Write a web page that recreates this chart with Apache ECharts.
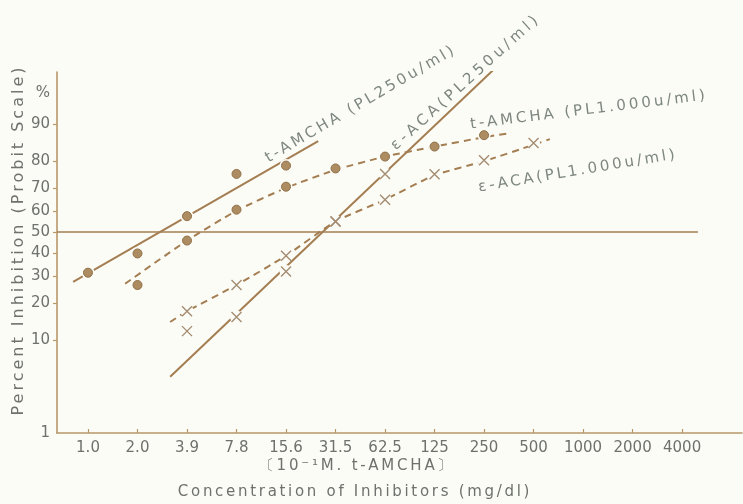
<!DOCTYPE html>
<html>
<head>
<meta charset="utf-8">
<style>
  html, body { margin: 0; padding: 0; background: #fcfcf6; }
  #chart { width: 743px; height: 504px; }
</style>
<script src="https://cdn.jsdelivr.net/npm/echarts@6/dist/echarts.min.js"></script>
</head>
<body>
<div id="chart"></div>
<script>
// Letter-spaced type: a font family token "trkNN" means NN/10 px of tracking.
(function () {
  const P = window.CanvasRenderingContext2D && CanvasRenderingContext2D.prototype;
  if (!P || !('letterSpacing' in P)) return;
  const spacingOf = (ctx) => {
    const m = /trk(\d+)/.exec(ctx.font || '');
    return m ? Number(m[1]) / 10 : 0;
  };
  ['fillText', 'strokeText'].forEach((fn) => {
    const orig = P[fn];
    P[fn] = function () {
      this.letterSpacing = spacingOf(this) + 'px';
      return orig.apply(this, arguments);
    };
  });
  const origMeasure = P.measureText;
  P.measureText = function (text) {
    const s = spacingOf(this);
    this.letterSpacing = '0px';
    const m = origMeasure.call(this, text);
    if (!s) return m;
    return {
      width: m.width + s * String(text).length,
      actualBoundingBoxAscent: m.actualBoundingBoxAscent,
      actualBoundingBoxDescent: m.actualBoundingBoxDescent,
      actualBoundingBoxLeft: m.actualBoundingBoxLeft,
      actualBoundingBoxRight: m.actualBoundingBoxRight + s * String(text).length,
      fontBoundingBoxAscent: m.fontBoundingBoxAscent,
      fontBoundingBoxDescent: m.fontBoundingBoxDescent
    };
  };
})();

// ---- data -------------------------------------------------------------
// Concentration steps (mg/dl); points sit at the step index.
const xTickLabels = ['1.0', '2.0', '3.9', '7.8', '15.6', '31.5', '62.5', '125', '250', '500', '1000', '2000', '4000'];
// Probit-scale gridlines (percent)
const yTickPercents = [10, 20, 30, 40, 50, 60, 70, 80, 90];
const referencePercent = 50;

// t-AMCHA, plasmin 250 u/ml: observed points and fitted line  [step, %]
const tAmcha250Points = [[0, 31.5], [1, 40], [2, 57.5], [3, 75.5], [4, 78.5]];
const tAmcha250Fit = [[-0.30, 27.7], [4.65, 86]];

// t-AMCHA, plasmin 1,000 u/ml: observed points and drawn curve
const tAmcha1000Points = [[1, 26.5], [2, 46], [3, 60.5], [4, 70.5], [5, 77.5], [6, 81.5], [7, 84.5], [8, 87.5]];
const tAmcha1000Curve = [[0.75, 27], [2, 46], [3, 60], [4, 70], [5, 77], [6, 81.5], [7, 84.5], [8, 87], [8.55, 88]];

// ε-ACA, plasmin 250 u/ml: observed points and fitted line
const eAca250Points = [[2, 12], [3, 15.7], [4, 32], [5, 55], [6, 75.5]];
const eAca250Fit = [[1.66, 4.3], [8.22, 97.4]];

// ε-ACA, plasmin 1,000 u/ml: observed points and drawn curve
const eAca1000Points = [[2, 17.4], [3, 26.5], [4, 39], [5, 55], [6, 65], [7, 75.4], [8, 80.3], [9, 85.5]];
const eAca1000Curve = [[1.66, 14.3], [2, 17.4], [3, 26.5], [4, 39], [5, 55], [6, 65], [7, 75], [8, 80], [9, 85], [9.33, 86.5]];

// ---- probit transform (inverse normal CDF, Acklam) --------------------
function probit(p) {
  const a = [-3.969683028665376e+01, 2.209460984245205e+02, -2.759285104469687e+02, 1.383577518672690e+02, -3.066479806614716e+01, 2.506628277459239e+00];
  const b = [-5.447609879822406e+01, 1.615858368580409e+02, -1.556989798598866e+02, 6.680131188771972e+01, -1.328068155288572e+01];
  const c = [-7.784894002430293e-03, -3.223964580411365e-01, -2.400758277161838e+00, -2.549732539343734e+00, 4.374664141464968e+00, 2.938163982698783e+00];
  const d = [7.784695709041462e-03, 3.224671290700398e-01, 2.445134137142996e+00, 3.754408661907416e+00];
  const pl = 0.02425, ph = 1 - pl;
  let q, r;
  if (p < pl) {
    q = Math.sqrt(-2 * Math.log(p));
    return (((((c[0] * q + c[1]) * q + c[2]) * q + c[3]) * q + c[4]) * q + c[5]) / ((((d[0] * q + d[1]) * q + d[2]) * q + d[3]) * q + 1);
  }
  if (p > ph) {
    q = Math.sqrt(-2 * Math.log(1 - p));
    return -(((((c[0] * q + c[1]) * q + c[2]) * q + c[3]) * q + c[4]) * q + c[5]) / ((((d[0] * q + d[1]) * q + d[2]) * q + d[3]) * q + 1);
  }
  q = p - 0.5; r = q * q;
  return (((((a[0] * r + a[1]) * r + a[2]) * r + a[3]) * r + a[4]) * r + a[5]) * q / (((((b[0] * r + b[1]) * r + b[2]) * r + b[3]) * r + b[4]) * r + 1);
}
const toXY = (arr) => arr.map(([i, pct]) => [i, probit(pct / 100)]);

// ---- styling ----------------------------------------------------------
const BG = '#fcfcf6';
const AXIS = '#b8976a';
const LINE = '#a47e52';
const DOT = '#ad8c62';
const DOT_EDGE = '#8f7049';
const CROSS = '#a48c72';
const TICK_TEXT = '#6e716c';
const NOTE_TEXT = '#7d877f';
const FAMILY = '"DejaVu Sans", sans-serif';
const tracked = (n) => '"DejaVu Sans", trk' + n + ', sans-serif';

const xMin = -0.626, xMax = 13.21;
const yMin = -2.384, yMax = 1.90;
const refLineEnd = 12.32;

const yTickValues = yTickPercents.map((p) => probit(p / 100));
const yLabelValues = [yMin].concat(yTickValues, [probit(0.95)]);
const yLabelTexts = ['1'].concat(yTickPercents.map(String), ['%']);
const xTickIdx = xTickLabels.map((_, i) => i);

const crossPath = 'path://M0 0L10 10M10 0L0 10';

const chart = echarts.init(document.getElementById('chart'), null, { renderer: 'canvas' });

chart.setOption({
  backgroundColor: BG,
  animation: false,
  grid: { left: 57, right: 1, top: 72, bottom: 71, containLabel: false, outerBoundsMode: 'none' },
  xAxis: {
    type: 'value', min: xMin, max: xMax,
    axisLine: { show: true, onZero: false, lineStyle: { color: AXIS, width: 1.6 } },
    axisTick: { show: true, inside: true, length: 4, customValues: xTickIdx, lineStyle: { color: AXIS, width: 1.2 } },
    axisLabel: {
      customValues: xTickIdx, margin: 8, color: TICK_TEXT, fontSize: 15, fontFamily: FAMILY,
      formatter: (v) => xTickLabels[Math.round(v)]
    },
    splitLine: { show: false }
  },
  yAxis: {
    type: 'value', min: yMin, max: yMax,
    axisLine: { show: true, onZero: false, lineStyle: { color: AXIS, width: 1.6 } },
    axisTick: { show: true, inside: false, length: 4, customValues: yTickValues, lineStyle: { color: AXIS, width: 1.2 } },
    axisLabel: {
      customValues: yLabelValues, margin: 7, color: TICK_TEXT, fontSize: 15, fontFamily: FAMILY,
      formatter: (v) => {
        let best = 0;
        yLabelValues.forEach((t, i) => { if (Math.abs(t - v) < Math.abs(yLabelValues[best] - v)) best = i; });
        return yLabelTexts[best];
      }
    },
    splitLine: { show: false }
  },
  series: [
    {
      type: 'line', name: 't-AMCHA (PL250u/ml)', data: toXY(tAmcha250Fit),
      showSymbol: false, z: 2, lineStyle: { color: LINE, width: 2 },
      markLine: {
        silent: true, symbol: 'none', label: { show: false },
        lineStyle: { color: LINE, width: 1.6, type: 'solid' },
        data: [[{ coord: [xMin, probit(referencePercent / 100)] }, { coord: [refLineEnd, probit(referencePercent / 100)] }]]
      }
    },
    {
      type: 'line', name: 't-AMCHA (PL1.000u/ml)', data: toXY(tAmcha1000Curve),
      smooth: 0.2, showSymbol: false, z: 2,
      lineStyle: { color: LINE, width: 2, type: [7, 5] }
    },
    {
      type: 'line', name: 'ε-ACA(PL250u/ml)', data: toXY(eAca250Fit),
      showSymbol: false, z: 2, lineStyle: { color: LINE, width: 2 }
    },
    {
      type: 'line', name: 'ε-ACA(PL1.000u/ml)', data: toXY(eAca1000Curve),
      smooth: 0.2, showSymbol: false, z: 2,
      lineStyle: { color: LINE, width: 2, type: [7, 5] }
    },
    {
      // paper-coloured clearance under every marker
      type: 'scatter', silent: true, z: 3, symbol: 'circle', symbolSize: 13,
      itemStyle: { color: BG, opacity: 1 },
      data: toXY([].concat(tAmcha250Points, tAmcha1000Points, eAca250Points, eAca1000Points))
    },
    {
      type: 'scatter', z: 4, symbol: 'circle', symbolSize: 9,
      itemStyle: { color: DOT, borderColor: DOT_EDGE, borderWidth: 1, opacity: 1 },
      data: toXY(tAmcha250Points)
    },
    {
      type: 'scatter', z: 4, symbol: 'circle', symbolSize: 9,
      itemStyle: { color: DOT, borderColor: DOT_EDGE, borderWidth: 1, opacity: 1 },
      data: toXY(tAmcha1000Points)
    },
    {
      type: 'scatter', z: 4, symbol: crossPath, symbolSize: 10,
      itemStyle: { color: 'none', borderColor: CROSS, borderWidth: 1.4, opacity: 1 },
      data: toXY(eAca250Points)
    },
    {
      type: 'scatter', z: 4, symbol: crossPath, symbolSize: 10,
      itemStyle: { color: 'none', borderColor: CROSS, borderWidth: 1.4, opacity: 1 },
      data: toXY(eAca1000Points)
    }
  ],
  graphic: [
    {
      type: 'text', x: 19, y: 240, rotation: Math.PI / 2, silent: true,
      style: { text: 'Percent Inhibition (Probit Scale)', fill: TICK_TEXT, fontSize: 16, fontFamily: tracked(30), align: 'center', verticalAlign: 'middle' }
    },
    {
      type: 'text', x: 357, y: 466, silent: true,
      style: { text: '〔10⁻¹M. t-AMCHA〕', fill: TICK_TEXT, fontSize: 15, fontFamily: tracked(28), align: 'center', verticalAlign: 'middle' }
    },
    {
      type: 'text', x: 355, y: 492, silent: true,
      style: { text: 'Concentration of Inhibitors (mg/dl)', fill: TICK_TEXT, fontSize: 15, fontFamily: tracked(27), align: 'center', verticalAlign: 'middle' }
    },
    {
      type: 'text', x: 361, y: 104, rotation: 30.3 * Math.PI / 180, silent: true,
      style: { text: 't-AMCHA (PL250u/ml)', fill: NOTE_TEXT, fontSize: 15, fontFamily: tracked(30), align: 'center', verticalAlign: 'middle' }
    },
    {
      type: 'text', x: 466, y: 82, rotation: 42 * Math.PI / 180, silent: true,
      style: { text: 'ε-ACA(PL250u/ml)', fill: NOTE_TEXT, fontSize: 15, fontFamily: tracked(38), align: 'center', verticalAlign: 'middle' }
    },
    {
      type: 'text', x: 589, y: 110, rotation: 7 * Math.PI / 180, silent: true,
      style: { text: 't-AMCHA (PL1.000u/ml)', fill: NOTE_TEXT, fontSize: 15, fontFamily: tracked(30), align: 'center', verticalAlign: 'middle' }
    },
    {
      type: 'text', x: 578, y: 171, rotation: 9.5 * Math.PI / 180, silent: true,
      style: { text: 'ε-ACA(PL1.000u/ml)', fill: NOTE_TEXT, fontSize: 15, fontFamily: tracked(29), align: 'center', verticalAlign: 'middle' }
    }
  ]
});
</script>
</body>
</html>
